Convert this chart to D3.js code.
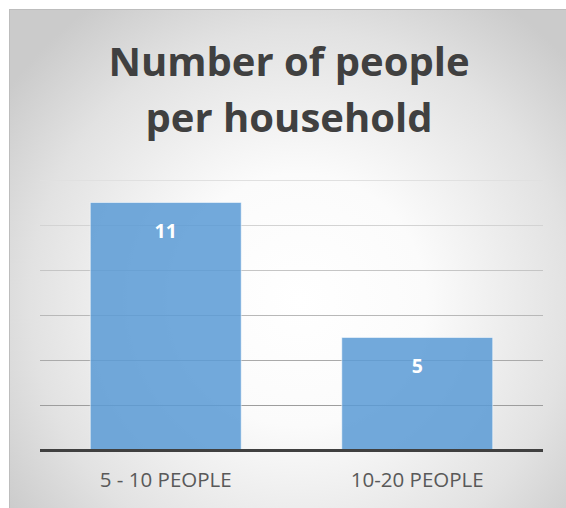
<!DOCTYPE html>
<html>
<head>
<meta charset="utf-8">
<script src="https://cdn.jsdelivr.net/npm/d3@7/dist/d3.min.js"></script>
<style>
  html, body { margin: 0; padding: 0; background: #fff; }
  svg { display: block; }
</style>
</head>
<body>
<div id="chart"></div>
<script>
// chart values
var categories = ["5 - 10 PEOPLE", "10-20 PEOPLE"];
var values = [11, 5];
var gridTicks = [0, 2, 4, 6, 8, 10, 12];
var titleLines = ["Number of people", "per household"];

var W = 566, H = 508;
var plot = {left: 40, right: 543, top: 180, bottom: 450};

var svg = d3.select("#chart").append("svg")
	.attr("width", W)
	.attr("height", H);

var defs = svg.append("defs");
var bg = defs.append("radialGradient")
	.attr("id", "bg")
	.attr("gradientUnits", "userSpaceOnUse")
	.attr("cx", 300).attr("cy", 300).attr("r", 360);
bg.append("stop").attr("offset", "0").attr("stop-color", "#ffffff");
bg.append("stop").attr("offset", "0.35").attr("stop-color", "#fbfbfb");
bg.append("stop").attr("offset", "0.75").attr("stop-color", "#e2e2e2");
bg.append("stop").attr("offset", "1").attr("stop-color", "#cbcbcb");

svg.append("rect")
	.attr("x", 9.5).attr("y", 9.5)
	.attr("width", W).attr("height", H)
	.attr("fill", "url(#bg)")
	.attr("stroke", "#bdbdbd");

var x = d3.scaleBand()
	.domain(categories)
	.range([plot.left, plot.right])
	.paddingInner(0.4)
	.paddingOuter(0.2);

var y = d3.scaleLinear()
	.domain([0, 12])
	.range([plot.bottom, plot.top]);

var gridColor = d3.scaleLinear()
	.domain([2, 12])
	.range(["#9d9d9d", "#e0e0e0"]);

// gridlines
svg.append("g").selectAll("line")
	.data(gridTicks.filter(function (d) { return d > 0; }))
	.enter().append("line")
	.attr("x1", plot.left).attr("x2", plot.right)
	.attr("y1", function (d) { return y(d) + 0.5; })
	.attr("y2", function (d) { return y(d) + 0.5; })
	.attr("stroke", function (d) { return gridColor(d); })
	.attr("stroke-width", 1.2);

// bars
svg.append("g").selectAll("rect")
	.data(values)
	.enter().append("rect")
	.attr("x", function (d, i) { return x(categories[i]); })
	.attr("y", function (d) { return y(d); })
	.attr("width", x.bandwidth())
	.attr("height", function (d) { return y(0) - y(d); })
	.attr("fill", "#5b9bd5")
	.attr("fill-opacity", 0.86)
	.attr("stroke", "#ffffff")
	.attr("stroke-opacity", 0.5)
	.attr("stroke-width", 1);

// value labels
svg.append("g").selectAll("text")
	.data(values)
	.enter().append("text")
	.attr("x", function (d, i) { return x(categories[i]) + x.bandwidth() / 2; })
	.attr("y", function (d) { return y(d) + 35; })
	.attr("text-anchor", "middle")
	.attr("font-family", "Open Sans, sans-serif")
	.attr("font-weight", "bold")
	.attr("font-size", 19.5)
	.attr("fill", "#ffffff")
	.text(function (d) { return d; });

// baseline
svg.append("line")
	.attr("x1", plot.left).attr("x2", plot.right)
	.attr("y1", y(0) + 0.5).attr("y2", y(0) + 0.5)
	.attr("stroke", "#404040")
	.attr("stroke-width", 3);

// category axis
var xAxis = svg.append("g")
	.attr("transform", "translate(0," + (plot.bottom + 37) + ")");
xAxis.selectAll("text")
	.data(categories)
	.enter().append("text")
	.attr("x", function (d) { return x(d) + x.bandwidth() / 2; })
	.attr("text-anchor", "middle")
	.attr("font-family", "Open Sans, sans-serif")
	.attr("font-size", 20.5)
	.attr("fill", "#595959")
	.text(function (d) { return d; });

// title
svg.append("g").selectAll("text")
	.data(titleLines)
	.enter().append("text")
	.attr("x", 289)
	.attr("y", function (d, i) { return 76 + i * 56; })
	.attr("text-anchor", "middle")
	.attr("font-family", "Open Sans, sans-serif")
	.attr("font-weight", "bold")
	.attr("font-size", 40)
	.attr("fill", "#404040")
	.text(function (d) { return d; });
</script>
</body>
</html>
